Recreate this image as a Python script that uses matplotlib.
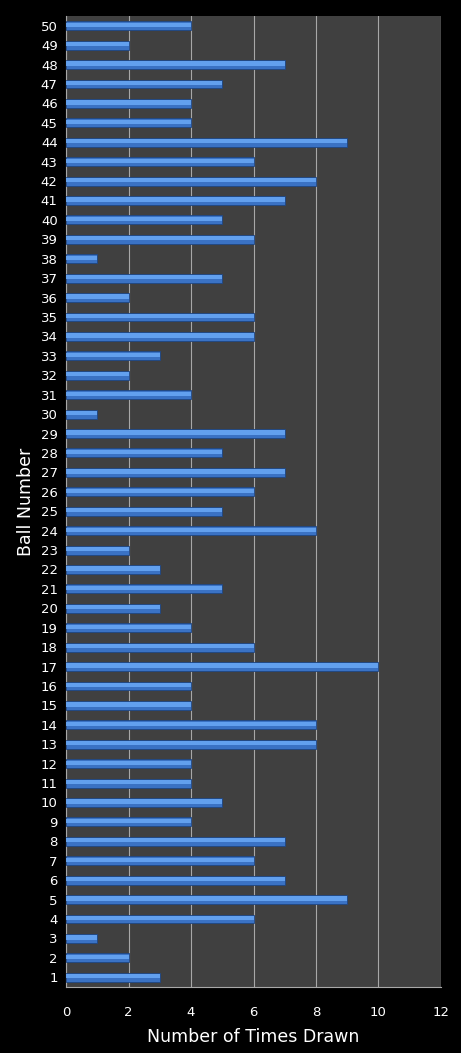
import matplotlib.pyplot as plt

balls = list(range(1, 51))
times_drawn = [3, 2, 1, 6, 9, 7, 6, 7, 4, 5,
               4, 4, 8, 8, 4, 4, 10, 6, 4, 3,
               5, 3, 2, 8, 5, 6, 7, 5, 7, 1,
               4, 2, 3, 6, 6, 2, 5, 1, 6, 5,
               7, 8, 6, 9, 4, 4, 5, 7, 2, 4]

fig = plt.figure(figsize=(4.61, 10.53), dpi=100, facecolor="black")
ax = fig.add_axes([0.1432, 0.0627, 0.8134, 0.9221])
ax.set_facecolor("#404040")

# bar body with a lighter strip on top for the bevel look
ax.barh(balls, times_drawn, height=0.46, color="#3a72c4", edgecolor="#1f4682", linewidth=0.6, zorder=3)
ax.barh([b + 0.05 for b in balls], times_drawn, height=0.22, color="#62a0ee", linewidth=0, zorder=4)

ax.set_xlim(0, 12)
ax.set_ylim(0.5, 50.5)
ax.set_xticks(range(0, 13, 2))
ax.set_yticks(balls)
ax.grid(axis="x", color="#a8a8a8", linewidth=0.8, zorder=0)
ax.tick_params(colors="white", labelsize=9.5, length=0, pad=6)
for s in ax.spines.values():
    s.set_visible(False)
ax.spines["left"].set_visible(True)
ax.spines["bottom"].set_visible(True)
ax.spines["left"].set_color("#a8a8a8")
ax.spines["bottom"].set_color("#a8a8a8")
ax.tick_params(axis="x", pad=14)

ax.set_xlabel("Number of Times Drawn", color="white", fontsize=12.5, labelpad=6)
ax.set_ylabel("Ball Number", color="white", fontsize=12.5, labelpad=4)

fig.savefig("out.png", dpi=100, facecolor="black")
